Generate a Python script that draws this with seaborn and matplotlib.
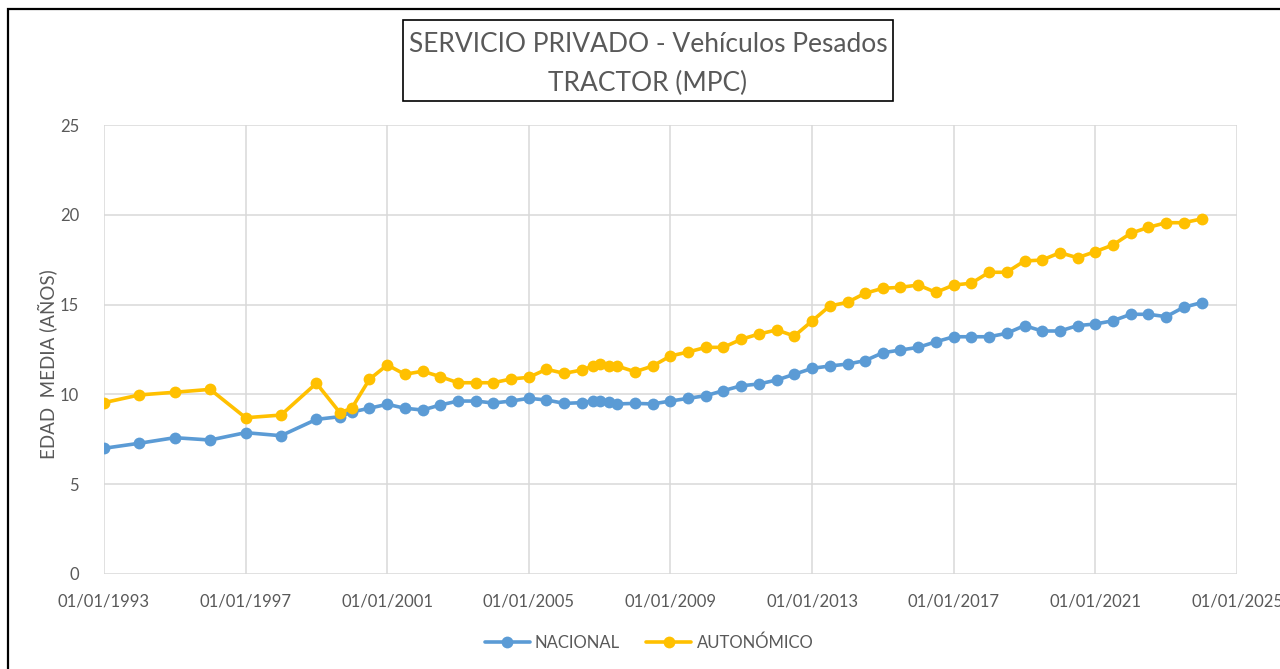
import matplotlib
matplotlib.use("Agg")
import matplotlib.pyplot as plt
import matplotlib.dates as mdates
from matplotlib.patches import Rectangle
import pandas as pd
import seaborn as sns

# Data
fechas = [
    "1993-01-01", "1994-01-01", "1995-01-01", "1996-01-01", "1997-01-01",
    "1998-01-01", "1999-01-01", "1999-09-01", "2000-01-01", "2000-07-01",
    "2001-01-01", "2001-07-01", "2002-01-01", "2002-07-01", "2003-01-01",
    "2003-07-01", "2004-01-01", "2004-07-01", "2005-01-01", "2005-07-01",
    "2006-01-01", "2006-07-01", "2006-10-25", "2007-01-01", "2007-04-10",
    "2007-07-01", "2008-01-01", "2008-07-01", "2009-01-01", "2009-07-01",
    "2010-01-01", "2010-07-01", "2011-01-01", "2011-07-01", "2012-01-01",
    "2012-07-01", "2013-01-01", "2013-07-01", "2014-01-01", "2014-07-01",
    "2015-01-01", "2015-07-01", "2016-01-01", "2016-07-01", "2017-01-01",
    "2017-07-01", "2018-01-01", "2018-07-01", "2019-01-01", "2019-07-01",
    "2020-01-01", "2020-07-01", "2021-01-01", "2021-07-01", "2022-01-01",
    "2022-07-01", "2023-01-01", "2023-07-01", "2024-01-01",
]
nacional = [
    7.00, 7.28, 7.59, 7.46, 7.87, 7.70, 8.61, 8.76, 9.02, 9.23,
    9.45, 9.23, 9.13, 9.41, 9.63, 9.63, 9.52, 9.63, 9.78, 9.69,
    9.50, 9.54, 9.65, 9.63, 9.56, 9.47, 9.50, 9.47, 9.63, 9.78,
    9.93, 10.21, 10.48, 10.58, 10.80, 11.12, 11.45, 11.58, 11.69, 11.88,
    12.32, 12.47, 12.62, 12.93, 13.21, 13.21, 13.21, 13.40, 13.83, 13.53,
    13.53, 13.83, 13.92, 14.10, 14.46, 14.46, 14.33, 14.85, 15.11,
]
autonomico = [
    9.54, 9.97, 10.12, 10.28, 8.70, 8.85, 10.62, 8.98, 9.23, 10.84,
    11.64, 11.12, 11.29, 10.99, 10.65, 10.65, 10.65, 10.86, 10.95, 11.40,
    11.17, 11.36, 11.58, 11.68, 11.58, 11.58, 11.26, 11.58, 12.14, 12.36,
    12.62, 12.62, 13.07, 13.36, 13.59, 13.25, 14.09, 14.92, 15.13, 15.63,
    15.91, 15.96, 16.09, 15.68, 16.09, 16.19, 16.80, 16.80, 17.43, 17.48,
    17.89, 17.61, 17.95, 18.32, 18.97, 19.30, 19.56, 19.56, 19.77,
]
series = ["NACIONAL", "AUTONÓMICO"]
colores = ["#5B9BD5", "#FFC000"]
y_ticks = [0, 5, 10, 15, 20, 25]
x_ticks = ["1993-01-01", "1997-01-01", "2001-01-01", "2005-01-01", "2009-01-01",
           "2013-01-01", "2017-01-01", "2021-01-01", "2025-01-01"]

sns.set_theme(style="white")
plt.rcParams["font.family"] = ["Lato", "DejaVu Sans"]
gris = "#595959"

df = pd.DataFrame({
    "fecha": pd.to_datetime(fechas * 2),
    "edad": nacional + autonomico,
    "serie": [series[0]] * len(fechas) + [series[1]] * len(fechas),
})

fig = plt.figure(figsize=(12.8, 6.69), dpi=100)
ax = fig.add_axes([104 / 1280, 1 - 574 / 669, (1237 - 104) / 1280, (574 - 125) / 669])

sns.lineplot(
    data=df, x="fecha", y="edad", hue="serie", hue_order=series,
    palette=colores, marker="o", markersize=8.5, markeredgewidth=0,
    linewidth=2.6, dashes=False, ax=ax, legend=True,
)

ticks_x = pd.to_datetime(x_ticks)
ax.set_xlim(ticks_x[0], ticks_x[-1])
ax.set_xticks(ticks_x)
ax.xaxis.set_major_formatter(mdates.DateFormatter("%d/%m/%Y"))
ax.set_ylim(y_ticks[0], y_ticks[-1])
ax.set_yticks(y_ticks)
ax.grid(True, color="#d9d9d9", linewidth=1.1)
for s in ax.spines.values():
    s.set_visible(False)
ax.tick_params(axis="both", length=0, labelsize=12, colors=gris)
ax.tick_params(axis="x", pad=14)
ax.tick_params(axis="y", pad=18)
ax.set_xlabel("")
ax.set_ylabel("EDAD  MEDIA (AÑOS)", fontsize=13.5, color=gris)
ax.yaxis.set_label_coords(-0.041, 0.468)

handles, labels = ax.get_legend_handles_labels()
ax.get_legend().remove()
fig.legend(handles, labels, loc="center", bbox_to_anchor=(0.507, 0.039), ncol=2,
           frameon=False, fontsize=12, labelcolor=gris, handlelength=2.7,
           handletextpad=0.3, columnspacing=1.6)

# Outer chart border (continues past the right and bottom edges)
fig.patches.append(Rectangle((8 / 1280, -0.1), 1.2, 1.1 - 9 / 669,
                             transform=fig.transFigure, fill=False,
                             edgecolor="black", linewidth=1.6))
# Title box
fig.patches.append(Rectangle((403 / 1280, 1 - 101 / 669), 490 / 1280, 81 / 669,
                             transform=fig.transFigure, fill=False,
                             edgecolor="black", linewidth=1.2))
fig.text(648 / 1280, 1 - 45 / 669, "SERVICIO PRIVADO - Vehículos Pesados",
         ha="center", va="center", fontsize=19, color=gris)
fig.text(648 / 1280, 1 - 83 / 669, "TRACTOR (MPC)",
         ha="center", va="center", fontsize=19, color=gris)

fig.savefig("out.png", dpi=100)
